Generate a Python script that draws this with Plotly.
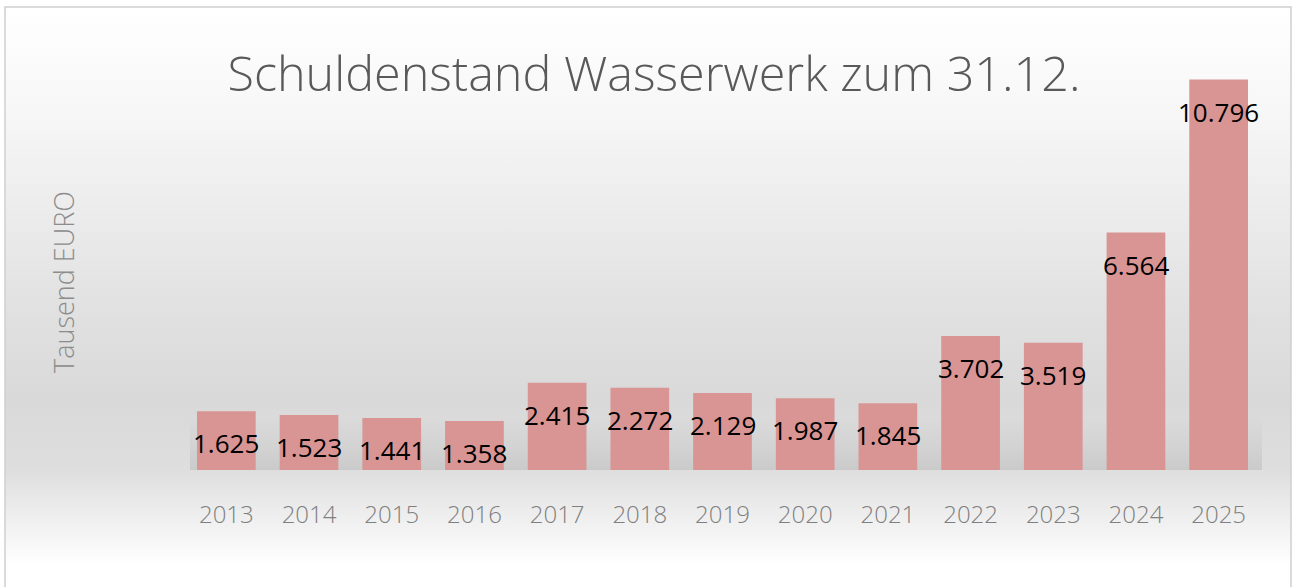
import base64
import plotly.graph_objects as go

years = ["2013", "2014", "2015", "2016", "2017", "2018", "2019",
         "2020", "2021", "2022", "2023", "2024", "2025"]
debt = [1625, 1523, 1441, 1358, 2415, 2272, 2129, 1987, 1845, 3702, 3519, 6564, 10796]
labels = [f"{v:,}".replace(",", ".") for v in debt]

W, H = 1297, 587
L, R, T, B = 185, 1260, 36, 470   # plot area in pixels


def px_x(px):
    return (px - L) / (R - L)


def px_y(py):
    return (B - py) / (B - T)


def svg_uri(stops, y0, y1):
    stop_xml = "".join(
        f'<stop offset="{(p - y0) / (y1 - y0):.3f}" stop-color="{c}" stop-opacity="{o}"/>'
        for p, c, o in stops)
    svg = (f'<svg xmlns="http://www.w3.org/2000/svg" width="100" height="100" preserveAspectRatio="none">'
           f'<defs><linearGradient id="g" x1="0" y1="0" x2="0" y2="1">{stop_xml}</linearGradient></defs>'
           f'<rect x="0" y="0" width="100" height="100" fill="url(#g)"/></svg>')
    return "data:image/svg+xml;base64," + base64.b64encode(svg.encode()).decode()


# background gradient (chart area)
top_px, bot_px = 7, 587
bg_stops = [(7, "#ffffff", 1), (110, "#f7f7f7", 1), (220, "#ebebeb", 1), (320, "#e0e0e0", 1),
            (400, "#d9d9d9", 1), (470, "#dedede", 1), (515, "#eeeeee", 1), (565, "#ffffff", 1),
            (587, "#ffffff", 1)]
bg_src = svg_uri(bg_stops, top_px, bot_px)
# soft floor shadow band
fl_top, fl_bot = 418, 470
fl_src = svg_uri([(418, "#000000", 0), (450, "#000000", 0.05), (470, "#000000", 0.09)], fl_top, fl_bot)

fig = go.Figure()
fig.add_trace(go.Bar(
    x=years, y=debt,
    marker=dict(color="#D99594", line=dict(width=0)),
    width=0.71,
    hoverinfo="x+y",
))

for i, (v, lab) in enumerate(zip(debt, labels)):
    fig.add_annotation(x=i, y=v, text=lab, showarrow=False, yanchor="middle",
                       yshift=-32, font=dict(family="Open Sans", size=26, color="#000000"))

fig.add_annotation(xref="paper", yref="paper", x=px_x(63), y=px_y(282), text="Tausend EURO",
                   textangle=-90, showarrow=False, xanchor="center", yanchor="middle",
                   font=dict(family="Open Sans", size=27, color="#8c8c8c", weight=300))

fig.update_layout(
    width=W, height=H,
    margin=dict(l=L, r=W - R, t=T, b=H - B, pad=0),
    paper_bgcolor="#ffffff",
    plot_bgcolor="rgba(0,0,0,0)",
    showlegend=False,
    title=dict(text="Schuldenstand Wasserwerk zum 31.12.", xref="container", yref="container",
               x=654 / W, y=1 - 74 / H, xanchor="center", yanchor="middle",
               font=dict(family="Open Sans", size=48.5, color="#595959", weight=300)),
    xaxis=dict(type="category", range=[-0.5, len(years) - 0.5], showgrid=False,
               zeroline=False, showline=False, ticks="", ticklabelstandoff=28,
               tickfont=dict(family="Open Sans", size=24, color="#7f7f7f", weight=300)),
    yaxis=dict(range=[0, 12000], showgrid=False, zeroline=False, showline=False,
               showticklabels=False, ticks=""),
    images=[dict(source=bg_src, xref="paper", yref="paper", x=px_x(5), y=px_y(top_px),
                 sizex=px_x(1291) - px_x(5), sizey=px_y(top_px) - px_y(bot_px),
                 xanchor="left", yanchor="top", sizing="stretch", layer="below"),
            dict(source=fl_src, xref="paper", yref="paper", x=px_x(190), y=px_y(fl_top),
                 sizex=px_x(1262) - px_x(190), sizey=px_y(fl_top) - px_y(fl_bot),
                 xanchor="left", yanchor="top", sizing="stretch", layer="below")],
    shapes=[dict(type="rect", xref="paper", yref="paper", x0=px_x(5), x1=px_x(1291),
                 y0=px_y(bot_px + 2), y1=px_y(top_px), line=dict(color="#d0d0d0", width=1.5),
                 fillcolor="rgba(0,0,0,0)", layer="above")],
)

fig.write_html("out.html", config={"displayModeBar": False},
               post_script="document.body.style.margin='0';document.body.style.overflow='hidden';")
